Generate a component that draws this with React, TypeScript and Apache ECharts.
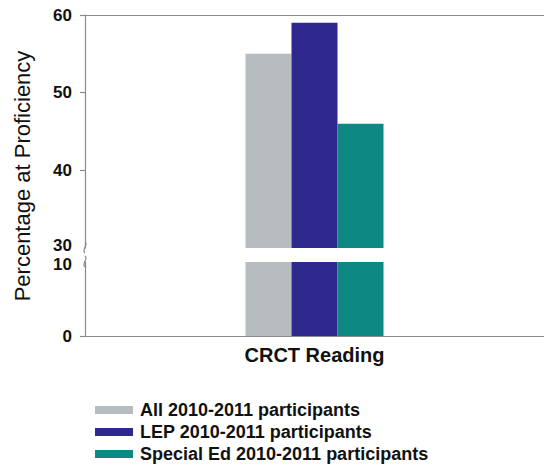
import React, { useEffect, useRef } from "react";
import * as echarts from "echarts";

const categories = ["CRCT Reading"];
const seriesNames = [
  "All 2010-2011 participants",
  "LEP 2010-2011 participants",
  "Special Ed 2010-2011 participants",
];
const allValues = [55];
const lepValues = [59];
const specialValues = [46];
const upperTicks = [30, 60, 10];
const lowerTicks = [0, 10, 10];

const colors = ["#b7bcbf", "#2e288f", "#0e8882"];
const FONT = "Arial, 'Liberation Sans', sans-serif";

export default function App() {
  const ref = useRef<HTMLDivElement>(null);
  useEffect(() => {
    document.body.style.margin = "0";
    if (!ref.current) return;
    const chart = echarts.init(ref.current, null, { renderer: "svg" });
    const values = [allValues, lepValues, specialValues];
    const axisLineStyle = { color: "#8a8a8a", width: 1.2 };
    const labelBase = {
      margin: 13,
      fontFamily: FONT,
      fontSize: 17,
      fontWeight: "bold",
      color: "#111",
    };
    const series: any[] = [];
    values.forEach((v, i) => {
      [0, 1].forEach((g) => {
        series.push({
          type: "bar",
          name: seriesNames[i],
          xAxisIndex: g,
          yAxisIndex: g,
          data: v,
          barWidth: 46,
          barGap: "0%",
          clip: true,
          itemStyle: { color: colors[i] },
        });
      });
    });
    chart.setOption({
      animation: false,
      grid: [
        { left: 85, width: 462, top: 15, height: 233 },
        { left: 85, width: 462, top: 262, height: 74 },
      ],
      xAxis: [
        {
          type: "category",
          gridIndex: 0,
          data: categories,
          position: "top",
          axisLine: { show: true, lineStyle: axisLineStyle },
          axisTick: { show: false },
          axisLabel: { show: false },
        },
        {
          type: "category",
          gridIndex: 1,
          data: categories,
          position: "bottom",
          axisLine: { show: true, lineStyle: axisLineStyle },
          axisTick: { show: false },
          axisLabel: {
            show: true,
            margin: 9,
            fontFamily: FONT,
            fontWeight: "bold",
            fontSize: 20,
            color: "#111",
          },
        },
      ],
      yAxis: [
        {
          type: "value",
          gridIndex: 0,
          min: upperTicks[0],
          max: upperTicks[1],
          interval: upperTicks[2],
          splitLine: { show: false },
          axisLine: { show: true, lineStyle: axisLineStyle },
          axisTick: {
            show: true,
            length: 5,
            lineStyle: axisLineStyle,
            customValues: [40, 50, 60],
          },
          axisLabel: {
            ...labelBase,
            formatter: (v: number) => (v === upperTicks[0] ? "{lo|" + v + "}" : String(v)),
            rich: {
              lo: { fontFamily: FONT, fontSize: 17, fontWeight: "bold", color: "#111", padding: [0, 0, 5, 0] },
            },
          },
        },
        {
          type: "value",
          gridIndex: 1,
          min: lowerTicks[0],
          max: lowerTicks[1],
          interval: lowerTicks[2],
          splitLine: { show: false },
          axisLine: { show: true, lineStyle: axisLineStyle },
          axisTick: {
            show: true,
            length: 5,
            lineStyle: axisLineStyle,
            customValues: [0],
          },
          axisLabel: {
            ...labelBase,
            formatter: (v: number) => (v === lowerTicks[1] ? "{hi|" + v + "}" : String(v)),
            rich: {
              hi: { fontFamily: FONT, fontSize: 17, fontWeight: "bold", color: "#111", padding: [5, 0, 0, 0] },
            },
          },
        },
      ],
      legend: {
        orient: "vertical",
        left: 95,
        top: 401,
        padding: 0,
        height: 68,
        itemWidth: 38,
        itemHeight: 8,
        itemGap: 4,
        data: seriesNames,
        icon: "rect",
        textStyle: {
          fontFamily: FONT,
          fontWeight: "bold",
          fontSize: 18,
          lineHeight: 18,
          color: "#111",
          padding: [0, 0, 0, 2],
        },
      },
      graphic: [
        {
          type: "text",
          x: 22,
          y: 176,
          rotation: Math.PI / 2,
          style: {
            text: "Percentage at Proficiency",
            fontFamily: FONT,
            fontSize: 22,
            fill: "#111",
            textAlign: "center",
            textVerticalAlign: "middle",
          },
        },
        {
          type: "bezierCurve",
          shape: { x1: 85, y1: 242, cpx1: 89, cpy1: 245, cpx2: 81, cpy2: 249, x2: 85, y2: 253 },
          style: { stroke: "#8a8a8a", lineWidth: 1.2, fill: "none" },
        },
        {
          type: "bezierCurve",
          shape: { x1: 85, y1: 256, cpx1: 89, cpy1: 259, cpx2: 81, cpy2: 263, x2: 85, y2: 267 },
          style: { stroke: "#8a8a8a", lineWidth: 1.2, fill: "none" },
        },
      ],
      series,
    });
    return () => chart.dispose();
  }, []);
  return <div ref={ref} style={{ width: 544, height: 469 }} />;
}
